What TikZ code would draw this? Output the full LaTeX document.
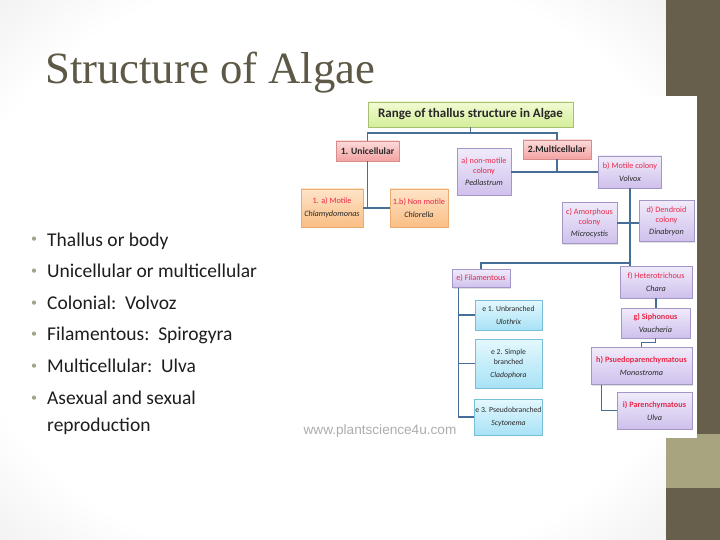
\documentclass[tikz,border=0pt]{standalone}
\usepackage{fontspec}
\setmainfont{Carlito}
\newfontfamily\titlefont{Liberation Serif}
\newfontfamily\webfont{Liberation Sans}
\usetikzlibrary{shadows, calc}
\definecolor{titlegray}{RGB}{94,88,70}
\definecolor{bodytext}{RGB}{30,30,30}
\definecolor{bulletgray}{RGB}{165,162,135}
\definecolor{bandolive}{RGB}{103,95,75}
\definecolor{bandlight}{RGB}{168,164,128}
\definecolor{linkblue}{RGB}{70,110,150}
\definecolor{labelred}{RGB}{232,40,72}
\definecolor{speciesdark}{RGB}{40,40,40}
\definecolor{greentop}{RGB}{242,251,212}
\definecolor{greenbot}{RGB}{212,238,152}
\definecolor{greenedge}{RGB}{165,192,115}
\definecolor{pinktop}{RGB}{252,218,218}
\definecolor{pinkbot}{RGB}{244,162,162}
\definecolor{pinkedge}{RGB}{215,140,140}
\definecolor{orangetop}{RGB}{254,228,200}
\definecolor{orangebot}{RGB}{250,190,132}
\definecolor{orangeedge}{RGB}{235,172,112}
\definecolor{lilactop}{RGB}{240,235,251}
\definecolor{lilacbot}{RGB}{207,192,236}
\definecolor{lilacedge}{RGB}{165,150,200}
\definecolor{cyantop}{RGB}{228,248,254}
\definecolor{cyanbot}{RGB}{168,226,246}
\definecolor{cyanedge}{RGB}{120,190,215}
\pgfdeclareradialshading{slideshade}{\pgfpoint{0bp}{0bp}}{color(0bp)=(white); color(28bp)=(white); color(50bp)=(black!15); color(72bp)=(black!26)}
\newcommand{\lab}[1]{\textcolor{labelred}{#1}}
\newcommand{\spec}[1]{\textcolor{speciesdark}{\itshape #1}}

\begin{document}
\begin{tikzpicture}[x=1pt, y=-1pt,
  every node/.style={inner sep=0pt},
  cell/.style={draw, align=center, inner sep=1pt, text=speciesdark,
    font=\fontsize{8.2}{10}\selectfont,
    drop shadow={shadow xshift=0.8pt, shadow yshift=-1pt, opacity=0.25}},
  greencell/.style={cell, top color=greentop, bottom color=greenbot, draw=greenedge,
    font=\fontsize{13}{14}\selectfont\bfseries},
  pinkcell/.style={cell, top color=pinktop, bottom color=pinkbot, draw=pinkedge,
    font=\fontsize{9.6}{11}\selectfont\bfseries},
  orangecell/.style={cell, top color=orangetop, bottom color=orangebot, draw=orangeedge},
  lilaccell/.style={cell, top color=lilactop, bottom color=lilacbot, draw=lilacedge},
  cyancell/.style={cell, top color=cyantop, bottom color=cyanbot, draw=cyanedge,
    font=\fontsize{7.7}{10}\selectfont},
  link/.style={draw=linkblue, line width=1.2pt},
  bullettext/.style={anchor=base west, font=\fontsize{19.5}{23}\selectfont, text=bodytext},
]
  \useasboundingbox (0,0) rectangle (720,540);
  % Slide background
  \shade[shading=slideshade] (0,0) rectangle (666,540);
  \fill[bandolive] (666,0) rectangle (720,540);
  \fill[bandlight] (666,434) rectangle (720,488);
  % Chart panel
  \fill[white] (297,96) rectangle (697,438);
  % Title
  \node[anchor=base west, font=\titlefont\fontsize{44.7}{50}\selectfont, text=titlegray]
    (title) at (45,84) {Structure of Algae};
  % Bullet list
  \foreach \txt [count=\i] in {Thallus or body, Unicellular or multicellular,
      Colonial:\ \ Volvoz, Filamentous:\ \ Spirogyra, Multicellular:\ \ Ulva,
      Asexual and sexual} {
    \node[bullettext] (item\i) at (47, {246+(\i-1)*31.6}) {\txt};
    \node[anchor=base, text=bulletgray, font=\fontsize{12}{12}\selectfont]
      (dot\i) at (34, {243+(\i-1)*31.6}) {\textbullet};
  }
  \node[bullettext] (item7) at (47,431) {reproduction};
  % Top and classes
  \node[greencell, minimum width=205, minimum height=25] (top) at (470.5,114.5)
    {Range of thallus structure in Algae};
  \node[pinkcell, minimum width=63, minimum height=20] (uni) at (367.5,151) {1. Unicellular};
  \node[pinkcell, minimum width=68, minimum height=19] (multi) at (557,149.5) {2.Multicellular};
  % Unicellular forms
  \node[orangecell, minimum width=62, minimum height=38] (motile) at (332,208)
    {\lab{1. a) Motile}\\[3pt]\spec{Chlamydomonas}};
  \node[orangecell, minimum width=58, minimum height=38] (nonmot) at (419,208)
    {\lab{1.b) Non motile}\\[3pt]\spec{Chlorella}};
  % Colonies
  \node[lilaccell, minimum width=54, minimum height=47] (pedi) at (484,172)
    {\lab{a) non-motile}\\\lab{colony}\\[2pt]\spec{Pedlastrum}};
  \node[lilaccell, minimum width=63, minimum height=32] (volvox) at (630,172)
    {\lab{b) Motile colony}\\[3pt]\spec{Volvox}};
  \node[lilaccell, minimum width=55, minimum height=41] (amorph) at (589.5,223)
    {\lab{c) Amorphous}\\\lab{colony}\\[2pt]\spec{Microcystis}};
  \node[lilaccell, minimum width=55, minimum height=41] (dendro) at (666.5,221)
    {\lab{d) Dendroid}\\\lab{colony}\\[2pt]\spec{Dinabryon}};
  % Filaments and thalli
  \node[lilaccell, minimum width=58, minimum height=18] (efil) at (481,278.5)
    {\lab{e) Filamentous}};
  \node[lilaccell, minimum width=72, minimum height=32] (fhet) at (656,282)
    {\lab{f) Heterotrichous}\\[3pt]\spec{Chara}};
  \node[lilaccell, minimum width=69, minimum height=30] (gsiph) at (655.5,323)
    {\lab{\bfseries g) Siphonous}\\[3pt]\spec{Vaucheria}};
  \node[lilaccell, minimum width=101, minimum height=37] (hpseudo) at (641.5,366)
    {\lab{\bfseries h) Psuedoparenchymatous}\\[3pt]\spec{Monostroma}};
  \node[lilaccell, minimum width=75, minimum height=37] (ipar) at (654.5,410.5)
    {\lab{\bfseries i) Parenchymatous}\\[3pt]\spec{Ulva}};
  \node[cyancell, minimum width=67, minimum height=30] (e1) at (508.5,315)
    {e 1. Unbranched\\[3pt]\spec{Ulothrix}};
  \node[cyancell, minimum width=67, minimum height=49] (e2) at (508.5,363.5)
    {e 2. Simple\\branched\\[3pt]\spec{Cladophora}};
  \node[cyancell, minimum width=67, minimum height=36] (e3) at (508.5,417)
    {e 3. Pseudobranched\\[3pt]\spec{Scytonema}};
  \node[font=\webfont\fontsize{13.6}{15}\selectfont, text=black!32] (web) at (380,431)
    {www.plantscience4u.com};
  % Connectors
  \coordinate (j1) at (top.south |- 0,133);
  \draw[link] (top.south) -- (j1);
  \draw[link] (uni.north) |- (j1) -| (multi.north);
  \draw[link] (motile.east) -- (nonmot.west);
  \draw[link] (uni.south) -- (uni.south |- motile.east);
  \draw[link] (pedi.east) -- (volvox.west);
  \draw[link] (multi.south) -- (multi.south |- pedi.east);
  \draw[link] (amorph.east) -- (amorph.east -| dendro.west);
  \draw[link] (volvox.south) -- (volvox.south |- fhet.north);
  \coordinate (j2) at (volvox.south |- 0,263);
  \draw[link] (j2) -| (efil.north);
  \coordinate (etrunk) at ([xshift=7]efil.south west);
  \draw[link] (etrunk) |- (e3.west);
  \draw[link] (etrunk |- e1.west) -- (e1.west);
  \draw[link] (etrunk |- e2.west) -- (e2.west);
  \draw[link] (fhet.south) -- (fhet.south |- gsiph.north);
  \draw[link] (gsiph.south) -- ++(0,4) -| (hpseudo.north);
  \draw[link] ([xshift=11]hpseudo.south west) |- (ipar.west);
\end{tikzpicture}
\end{document}
